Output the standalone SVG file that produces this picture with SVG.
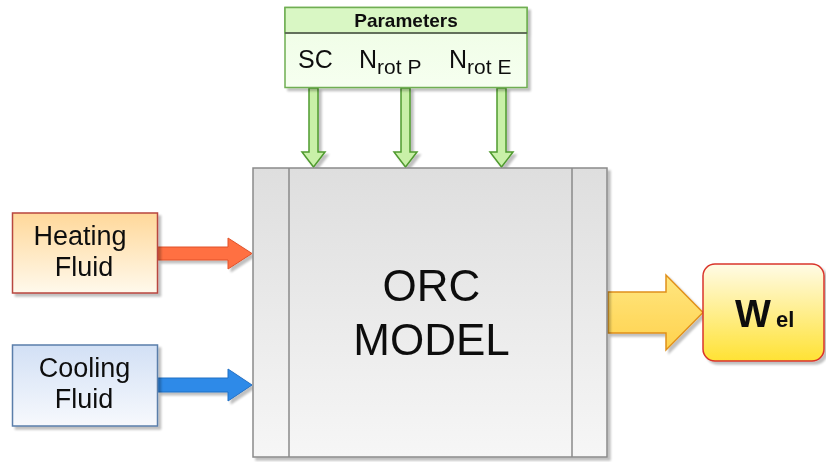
<svg xmlns="http://www.w3.org/2000/svg" width="826" height="462" viewBox="0 0 826 462">
  <defs>
    <linearGradient id="gModel" x1="0" y1="0" x2="0" y2="1">
      <stop offset="0" stop-color="#dedede"/>
      <stop offset="1" stop-color="#f6f6f6"/>
    </linearGradient>
    <linearGradient id="gHeat" x1="0" y1="0" x2="0" y2="1">
      <stop offset="0" stop-color="#ffd89a"/>
      <stop offset="1" stop-color="#fff9ec"/>
    </linearGradient>
    <linearGradient id="gCool" x1="0" y1="0" x2="0" y2="1">
      <stop offset="0" stop-color="#d2e0f5"/>
      <stop offset="1" stop-color="#f7f9fd"/>
    </linearGradient>
    <linearGradient id="gWel" x1="0" y1="0" x2="0" y2="1">
      <stop offset="0" stop-color="#fffbe6"/>
      <stop offset="1" stop-color="#ffe234"/>
    </linearGradient>
    <linearGradient id="gOut" x1="0" y1="0" x2="0" y2="1">
      <stop offset="0" stop-color="#ffe680"/>
      <stop offset="1" stop-color="#ffd24d"/>
    </linearGradient>
    <linearGradient id="gParam" x1="0" y1="0" x2="0" y2="1">
      <stop offset="0" stop-color="#eefde4"/>
      <stop offset="1" stop-color="#f6fff0"/>
    </linearGradient>
    <filter id="shadow" x="-10%" y="-10%" width="130%" height="130%">
      <feGaussianBlur in="SourceAlpha" stdDeviation="1.2"/>
      <feOffset dx="3" dy="3" result="off"/>
      <feComponentTransfer><feFuncA type="linear" slope="0.25"/></feComponentTransfer>
      <feMerge><feMergeNode/><feMergeNode in="SourceGraphic"/></feMerge>
    </filter>
  </defs>
  <style>
    text { font-family: "Liberation Sans", Arial, sans-serif; fill: #111; }
    .lbl { font-size: 27px; text-anchor: middle; }
    .big { font-size: 44px; text-anchor: middle; }
    .par { font-size: 25px; }
    .sub { font-size: 21px; }
    .conn { filter: url(#shadow); }
  </style>

  <rect x="0" y="0" width="826" height="462" fill="#ffffff"/>

  <!-- connectors: block arrows -->
  <g id="connectors">
    <g class="conn">
      <!-- parameter arrows -->
      <polygon points="309,88 318,88 318,152 325,152 313.5,167 302,152 309,152" fill="#c9f0a8" stroke="#4f9a2f" stroke-width="1.5"/>
      <polygon points="401,88 410,88 410,152 417,152 405.5,167 394,152 401,152" fill="#c9f0a8" stroke="#4f9a2f" stroke-width="1.5"/>
      <polygon points="497,88 506,88 506,152 513,152 501.5,167 490,152 497,152" fill="#c9f0a8" stroke="#4f9a2f" stroke-width="1.5"/>
      <!-- heating fluid in -->
      <polygon points="158,247 228,247 228,238 252,253.5 228,269 228,260 158,260" fill="#ff7043" stroke="#e0522a" stroke-width="1"/>
      <!-- cooling fluid in -->
      <polygon points="158,378 228,378 228,369 252,385 228,401 228,392 158,392" fill="#2f8ae8" stroke="#2370c4" stroke-width="1"/>
      <!-- power out -->
      <polygon points="608,292 666,292 666,275 703,312.5 666,350 666,333 608,333" fill="url(#gOut)" stroke="#e0901a" stroke-width="1.5"/>
    </g>
  </g>

  <!-- parameters panel -->
  <g id="parameters" filter="url(#shadow)">
    <rect x="285" y="7.5" width="242" height="80" fill="url(#gParam)" stroke="#6fae52" stroke-width="1.5"/>
    <rect x="285" y="7.5" width="242" height="25.5" fill="#d9f7c4" stroke="#6fae52" stroke-width="1.5"/>
    <line x1="285" y1="33" x2="527" y2="33" stroke="#555" stroke-width="1.5"/>
    <text x="406" y="27" font-size="19" font-weight="bold" text-anchor="middle">Parameters</text>
    <text class="par" x="298" y="68">SC</text>
    <text class="par" x="359" y="68">N<tspan class="sub" dy="6">rot P</tspan></text>
    <text class="par" x="449" y="68">N<tspan class="sub" dy="6">rot E</tspan></text>
  </g>

  <!-- main model block -->
  <g id="orc-model" filter="url(#shadow)">
    <rect x="253" y="168" width="354" height="289" fill="url(#gModel)" stroke="#8a8a8a" stroke-width="1.5"/>
    <line x1="289" y1="168" x2="289" y2="457" stroke="#8a8a8a" stroke-width="1.5"/>
    <line x1="572" y1="168" x2="572" y2="457" stroke="#8a8a8a" stroke-width="1.5"/>
    <text class="big" x="431.5" y="301">ORC</text>
    <text class="big" x="431.5" y="355">MODEL</text>
  </g>

  <!-- heating fluid source -->
  <g id="heating-fluid" filter="url(#shadow)">
    <rect x="12.5" y="213" width="145" height="80" fill="url(#gHeat)" stroke="#b8463f" stroke-width="1.5"/>
    <text class="lbl" x="80" y="245">Heating</text>
    <text class="lbl" x="84" y="276">Fluid</text>
  </g>

  <!-- cooling fluid source -->
  <g id="cooling-fluid" filter="url(#shadow)">
    <rect x="12.5" y="345" width="145" height="81" fill="url(#gCool)" stroke="#5a7eaa" stroke-width="1.5"/>
    <text class="lbl" x="84.5" y="377">Cooling</text>
    <text class="lbl" x="84" y="408">Fluid</text>
  </g>

  <!-- electrical power output -->
  <g id="w-el" filter="url(#shadow)">
    <rect x="703" y="264" width="121" height="97" rx="12" ry="12" fill="url(#gWel)" stroke="#d9342b" stroke-width="1.5"/>
    <text x="735" y="327" font-size="38" font-weight="bold">W</text>
    <text x="776" y="327" font-size="22" font-weight="bold">el</text>
  </g>
</svg>
